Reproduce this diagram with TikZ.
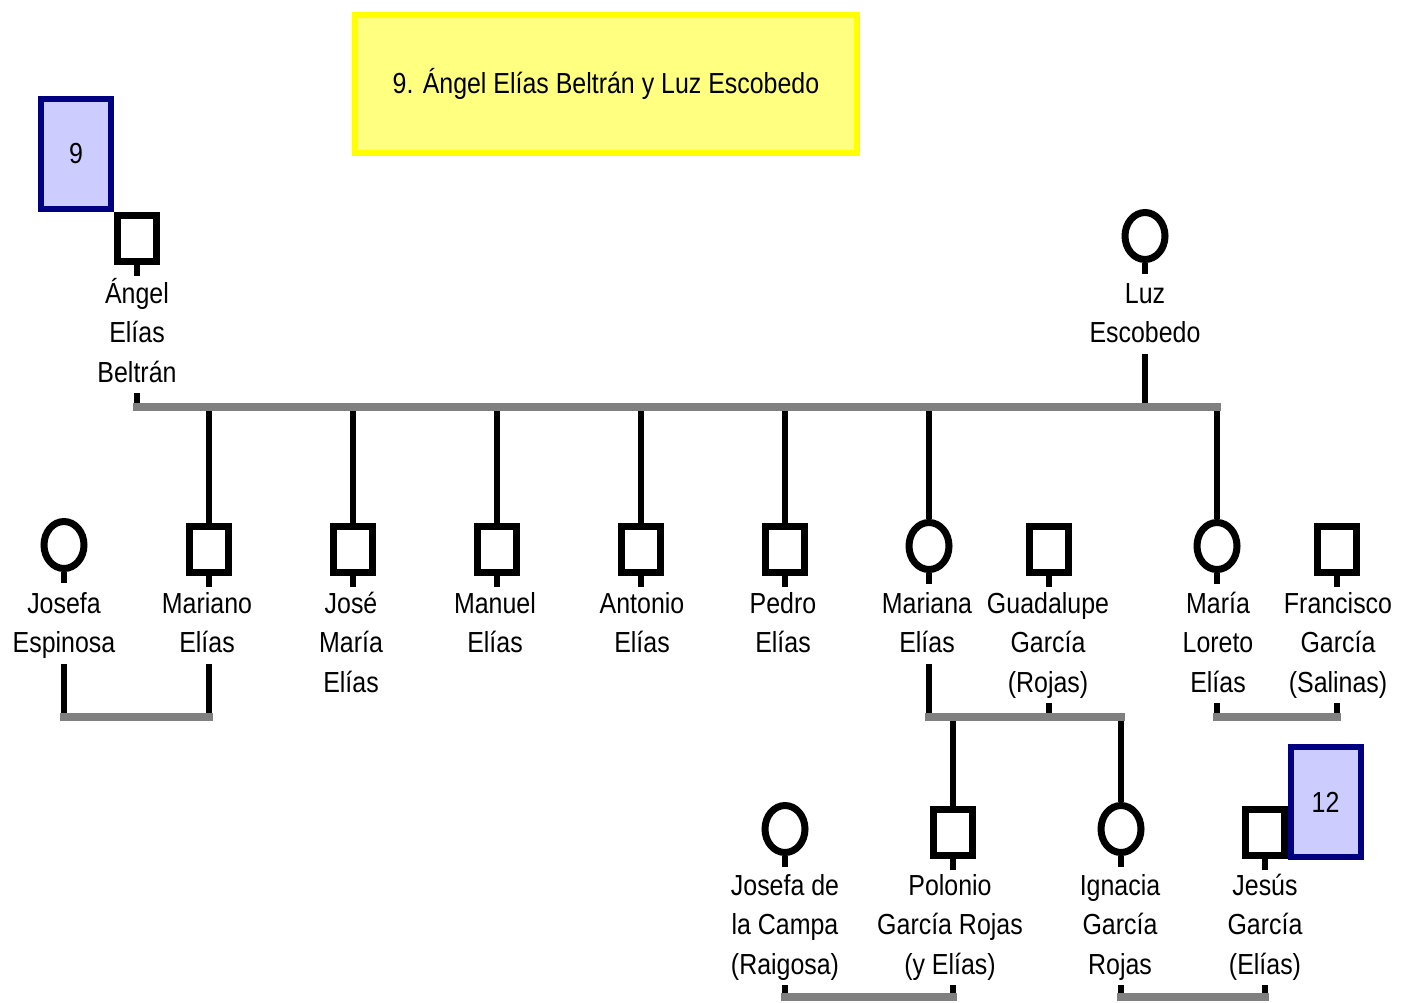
\documentclass[tikz,border=0pt]{standalone}
\usepackage{fontspec}
\setmainfont{Liberation Sans}[FakeStretch=0.86]
\usetikzlibrary{shapes.geometric}
\definecolor{lineg}{HTML}{808080}
\definecolor{boxfill}{HTML}{CCCCFF}
\definecolor{boxedge}{HTML}{000080}
\definecolor{yfill}{HTML}{FFFF80}
\definecolor{yedge}{HTML}{FFFF00}
\newcommand\lfont{\fontsize{29}{39.5}\selectfont}
\newcommand\nm[1]{\rule{0pt}{27pt}#1\rule[-9pt]{0pt}{9pt}}
\begin{document}
\begin{tikzpicture}[x=1pt,y=-1pt,
  male/.style={draw, line width=7pt, rectangle, minimum width=39pt, minimum height=46pt, inner sep=0pt},
  female/.style={draw, line width=7pt, ellipse, minimum width=40pt, minimum height=47pt, inner sep=0pt},
  pname/.style={font=\lfont, align=center, inner sep=0pt, anchor=north},
  kid/.style={line width=6.5pt, black},
  gline/.style={line width=8pt, lineg, line cap=rect},
  refbox/.style={draw=boxedge, fill=boxfill, line width=6pt, minimum width=70pt, minimum height=110pt, inner sep=0pt, font=\lfont},
  titlebox/.style={draw=yedge, fill=yfill, line width=6pt, minimum width=502pt, minimum height=138pt, inner sep=0pt, font=\lfont}
]
\useasboundingbox[fill=white] (0,0) rectangle (1402,1002);

% title and reference boxes
\node[titlebox] (title) at (606,84) {9. Ángel Elías Beltrán y Luz Escobedo};
\node[refbox] (ref9) at (76,154) {9};

% generation 1
\node[male] (angel) at (137,238) {};
\node[pname] (angel-l) at (137,276) {\nm{Ángel\\Elías\\Beltrán}};
\node[female] (luz) at (1145,236) {};
\node[pname] (luz-l) at (1145,276) {\nm{Luz\\Escobedo}};
\draw[kid] (angel.south) -- ++(0,11);
\draw[kid] (luz.south) -- ++(0,11);
\coordinate (f1a) at (137,407);
\coordinate (f1b) at (1217,407);

% generation 2
\node[female] (josefa) at (64,545) {};
\node[male] (mariano) at (209,549) {};
\node[male] (josem) at (353,549) {};
\node[male] (manuel) at (497,549) {};
\node[male] (antonio) at (641,549) {};
\node[male] (pedro) at (785,549) {};
\node[female] (mariana) at (929,546) {};
\node[male] (guadalupe) at (1049,549) {};
\node[female] (loreto) at (1217,546) {};
\node[male] (francisco) at (1337,549) {};

\node[pname] (josefa-l) at (64,586) {\nm{Josefa\\Espinosa}};
\node[pname] (mariano-l) at (207,586) {\nm{Mariano\\Elías}};
\node[pname] (josem-l) at (351,586) {\nm{José\\María\\Elías}};
\node[pname] (manuel-l) at (495,586) {\nm{Manuel\\Elías}};
\node[pname] (antonio-l) at (642,586) {\nm{Antonio\\Elías}};
\node[pname] (pedro-l) at (783,586) {\nm{Pedro\\Elías}};
\node[pname] (mariana-l) at (927,586) {\nm{Mariana\\Elías}};
\node[pname] (guadalupe-l) at (1048,586) {\nm{Guadalupe\\García\\(Rojas)}};
\node[pname] (loreto-l) at (1218,586) {\nm{María\\Loreto\\Elías}};
\node[pname] (francisco-l) at (1338,586) {\nm{Francisco\\García\\(Salinas)}};

\foreach \p in {josefa,mariano,josem,manuel,antonio,pedro,mariana,guadalupe,loreto,francisco}
  \draw[kid] (\p.south) -- ++(0,11);

% generation 3
\node[female] (jcampa) at (785,829) {};
\node[male] (polonio) at (953,832) {};
\node[female] (ignacia) at (1121,829) {};
\node[male] (jesus) at (1265,832) {};
\node[refbox] (ref12) at (1325.5,802) {12};

\node[pname] (jcampa-l) at (785,868) {\nm{Josefa de\\la Campa\\(Raigosa)}};
\node[pname] (polonio-l) at (950,868) {\nm{Polonio\\García Rojas\\(y Elías)}};
\node[pname] (ignacia-l) at (1120,868) {\nm{Ignacia\\García\\Rojas}};
\node[pname] (jesus-l) at (1265,868) {\nm{Jesús\\García\\(Elías)}};
\foreach \p in {jcampa,polonio,ignacia,jesus}
  \draw[kid] (\p.south) -- ++(0,11);

% union coordinates
\coordinate (u1a) at (64,717);  \coordinate (u1b) at (209,717);
\coordinate (u2a) at (929,717); \coordinate (u2g) at (1049,717); \coordinate (u2b) at (1121,717);
\coordinate (u3a) at (1217,717); \coordinate (u3b) at (1337,717);
\coordinate (u4a) at (785,997); \coordinate (u4b) at (953,997);
\coordinate (u5a) at (1121,997); \coordinate (u5b) at (1265,997);
\coordinate (luzb) at (1145,407);

% black descent lines
\draw[kid] (f1a |- angel-l.south) ++(0,2) -- (f1a);
\draw[kid] (luzb |- luz-l.south) ++(0,2) -- (luzb);
\foreach \c in {mariano,josem,manuel,antonio,pedro,mariana,loreto}
  \draw[kid] (\c.north |- f1a) -- (\c.north);
\draw[kid] (u1a |- josefa-l.south) ++(0,2) -- (u1a);
\draw[kid] (u1b |- mariano-l.south) ++(0,2) -- (u1b);
\draw[kid] (u2a |- mariana-l.south) ++(0,2) -- (u2a);
\draw[kid] (u2g |- guadalupe-l.south) ++(0,2) -- (u2g);
\draw[kid] (u3a |- loreto-l.south) ++(0,2) -- (u3a);
\draw[kid] (u3b |- francisco-l.south) ++(0,2) -- (u3b);
\draw[kid] (polonio.north |- u2a) -- (polonio.north);
\draw[kid] (ignacia.north |- u2a) -- (ignacia.north);
\draw[kid] (u4a |- jcampa-l.south) ++(0,2) -- (u4a);
\draw[kid] (u4b |- polonio-l.south) ++(0,2) -- (u4b);
\draw[kid] (u5a |- ignacia-l.south) ++(0,2) -- (u5a);
\draw[kid] (u5b |- jesus-l.south) ++(0,2) -- (u5b);

% grey union lines
\draw[gline] (f1a) -- (f1b);
\draw[gline] (u1a) -- (u1b);
\draw[gline] (u2a) -- (u2b);
\draw[gline] (u3a) -- (u3b);
\draw[gline] (u4a) -- (u4b);
\draw[gline] (u5a) -- (u5b);
\end{tikzpicture}
\end{document}
